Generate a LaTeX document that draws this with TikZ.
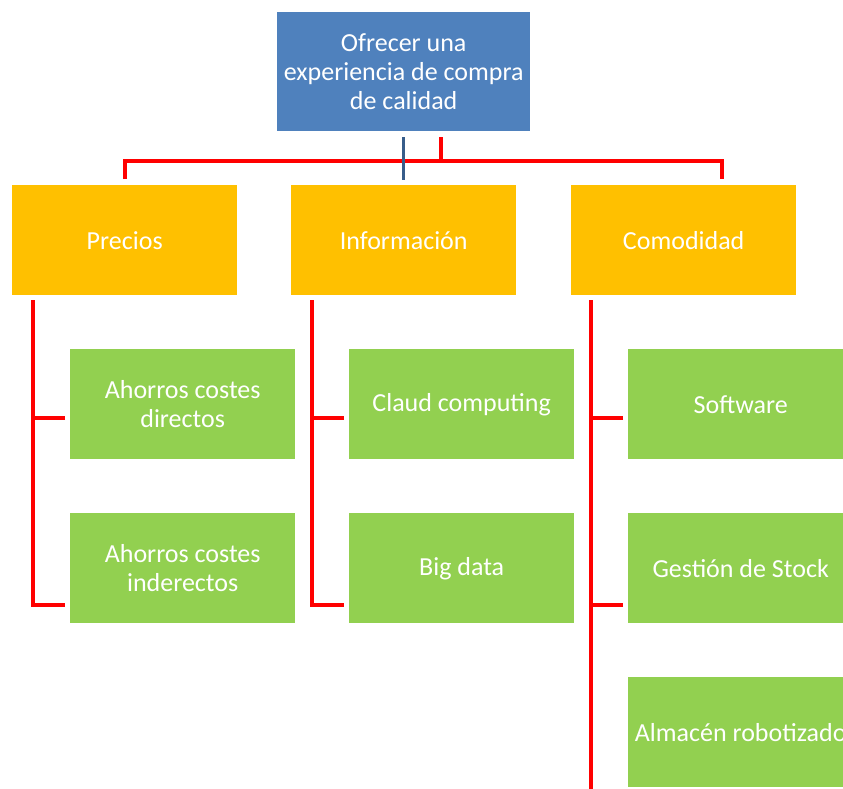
\documentclass[tikz,border=0pt]{standalone}
\usepackage{fontspec}
\setmainfont{Carlito}
\definecolor{rootblue}{HTML}{4F81BD}
\definecolor{stubblue}{HTML}{385D8A}
\definecolor{catyellow}{HTML}{FFC000}
\definecolor{leafgreen}{HTML}{92D050}
\definecolor{linkred}{HTML}{FF0000}
\tikzset{
  box/.style={rectangle, anchor=north west, inner sep=0pt, align=center,
    text=white, font=\fontsize{26}{29}\selectfont,
    minimum width=225pt, minimum height=110pt},
  rootbox/.style={box, fill=rootblue, minimum width=253pt, minimum height=119pt},
  catbox/.style={box, fill=catyellow},
  leafbox/.style={box, fill=leafgreen},
  redlink/.style={draw=linkred, line width=4pt},
  bluelink/.style={draw=stubblue, line width=3pt}
}
\begin{document}
\begin{tikzpicture}[x=1pt,y=-1pt]
\useasboundingbox (0,0) rectangle (843,788);
\clip (0,0) rectangle (843,788);

% top of the tree
\node[rootbox] (r) at (277,12) {Ofrecer una\\experiencia de compra\\de calidad};

% categories
\node[catbox] (p) at (12,185)  {Precios};
\node[catbox] (i) at (291,185) {Información};
\node[catbox] (c) at (571,185) {Comodidad};

% leaves
\node[leafbox] (a1) at (70,349)  {Ahorros costes\\directos};
\node[leafbox] (a2) at (70,513)  {Ahorros costes\\inderectos};
\node[leafbox] (b1) at (349,349) {Claud computing};
\node[leafbox] (b2) at (349,513) {Big data};
\node[leafbox] (c1) at (628,349) {Software};
\node[leafbox] (c2) at (628,513) {Gestión de Stock};
\node[leafbox] (c3) at (628,677) {Almacén robotizado};

% bus from the top box to the categories
\draw[redlink] ([xshift=37.5pt,yshift=-6pt]r.south) -- ++(0,24);
\draw[redlink] ([yshift=6pt]p.north) -- ++(0,-18) -| ([xshift=38.5pt,yshift=6pt]c.north);
\draw[bluelink] ([yshift=-6pt]r.south) -- ([yshift=5pt]i.north);

% branches of Precios
\draw[redlink] ([xshift=21pt,yshift=-5pt]p.south west) |- ([xshift=-5pt,yshift=-37pt]a2.west);
\draw[redlink] ([xshift=-5pt,yshift=-14pt]a1.west) -- ++(-34,0);

% branches of Información
\draw[redlink] ([xshift=21pt,yshift=-5pt]i.south west) |- ([xshift=-5pt,yshift=-37pt]b2.west);
\draw[redlink] ([xshift=-5pt,yshift=-14pt]b1.west) -- ++(-34,0);

% branches of Comodidad
\coordinate (cend) at ([xshift=-37pt,yshift=-30pt]c3.south west);
\draw[redlink] ([xshift=20pt,yshift=-5pt]c.south west) -- (cend);
\draw[redlink] ([xshift=-5pt,yshift=-14pt]c1.west) -- ++(-34,0);
\draw[redlink] ([xshift=-5pt,yshift=-37pt]c2.west) -- ++(-34,0);
\end{tikzpicture}
\end{document}
